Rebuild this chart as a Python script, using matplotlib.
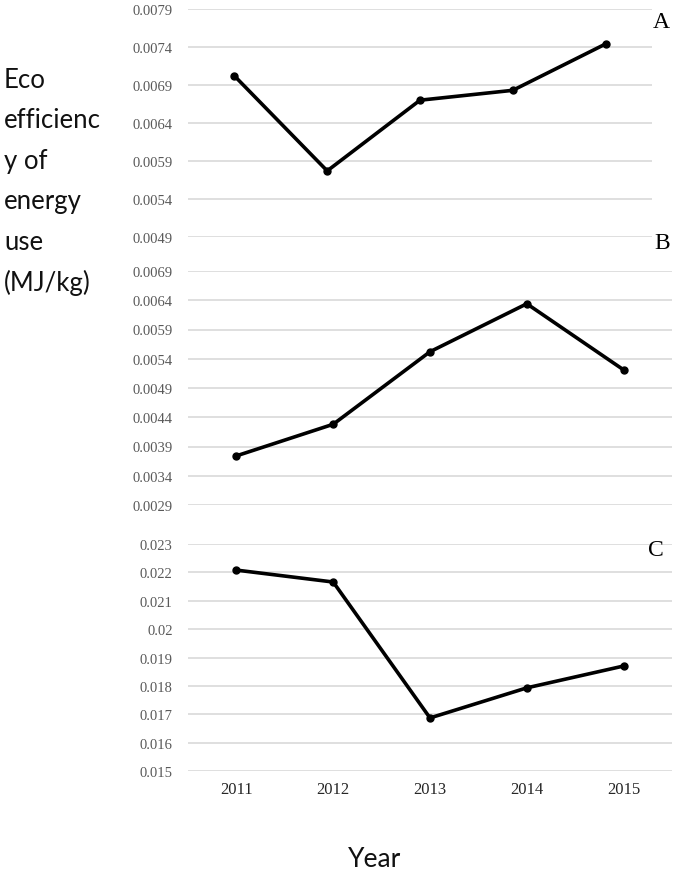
import matplotlib.pyplot as plt

years = ['2011', '2012', '2013', '2014', '2015']
eco_a = [0.00702, 0.00577, 0.00670, 0.00683, 0.00744]
eco_b = [0.00374, 0.00428, 0.00552, 0.00634, 0.00521]
eco_c = [0.02208, 0.02166, 0.01687, 0.01793, 0.01870]

ticks_a = [0.0049, 0.0054, 0.0059, 0.0064, 0.0069, 0.0074, 0.0079]
ticks_b = [0.0029, 0.0034, 0.0039, 0.0044, 0.0049, 0.0054, 0.0059, 0.0064, 0.0069]
ticks_c = [0.015, 0.016, 0.017, 0.018, 0.019, 0.02, 0.021, 0.022, 0.023]
tick_labels_a = ['0.0049', '0.0054', '0.0059', '0.0064', '0.0069', '0.0074', '0.0079']
tick_labels_b = ['0.0029', '0.0034', '0.0039', '0.0044', '0.0049', '0.0054', '0.0059', '0.0064', '0.0069']
tick_labels_c = ['0.015', '0.016', '0.017', '0.018', '0.019', '0.02', '0.021', '0.022', '0.023']

ylabel_lines = ['Eco', 'efficienc', 'y of', 'energy', 'use', '(MJ/kg)']

W, H = 691, 878
fig = plt.figure(figsize=(W / 100, H / 100), dpi=100)


def px_axes(left, top, right, bottom):
    # pixel box -> figure fraction
    return fig.add_axes([left / W, 1 - bottom / H, (right - left) / W, (bottom - top) / H])


def panel(ax, values, ticks, labels, show_x):
    x = list(range(len(years)))
    ax.plot(x, values, color='black', lw=2.6, marker='o', ms=5, zorder=3)
    ax.set_xlim(-0.5, len(years) - 0.5)
    ax.set_ylim(ticks[0], ticks[-1])
    ax.set_yticks(ticks)
    ax.set_yticklabels(labels, family='Liberation Serif', fontsize=10.5, color='#595959')
    ax.grid(axis='y', color='#d9d9d9', lw=1.2)
    ax.set_axisbelow(True)
    for s in ax.spines.values():
        s.set_visible(False)
    ax.tick_params(length=0, pad=11)
    ax.set_xticks(x)
    if show_x:
        ax.set_xticklabels(years, family='Liberation Serif', fontsize=12, color='#262626')
        ax.tick_params(axis='x', pad=7)
    else:
        ax.set_xticklabels([])
    return ax


ax_a = px_axes(188, 10, 652, 238)
panel(ax_a, eco_a, ticks_a, tick_labels_a, False)
ax_b = px_axes(188, 272, 672, 506)
panel(ax_b, eco_b, ticks_b, tick_labels_b, False)
ax_c = px_axes(188, 545, 672, 772)
panel(ax_c, eco_c, ticks_c, tick_labels_c, True)

# panel letters
for letter, (lx, ly) in zip(['A', 'B', 'C'], [(661, 22), (662, 244), (656, 551)]):
    fig.text(lx / W, 1 - ly / H, letter, family='Liberation Serif', fontsize=17,
             ha='center', va='center')

# stacked y label on the left
for i, line in enumerate(ylabel_lines):
    fig.text(4 / W, 1 - (80 + 40.5 * i) / H, line, family='Lato', fontsize=18.5,
             ha='left', va='center', color='#111111')

fig.text(375 / W, 1 - 860 / H, 'Year', family='Lato', fontsize=19,
         ha='center', va='center', color='#111111')

fig.savefig('out.png', dpi=100)
